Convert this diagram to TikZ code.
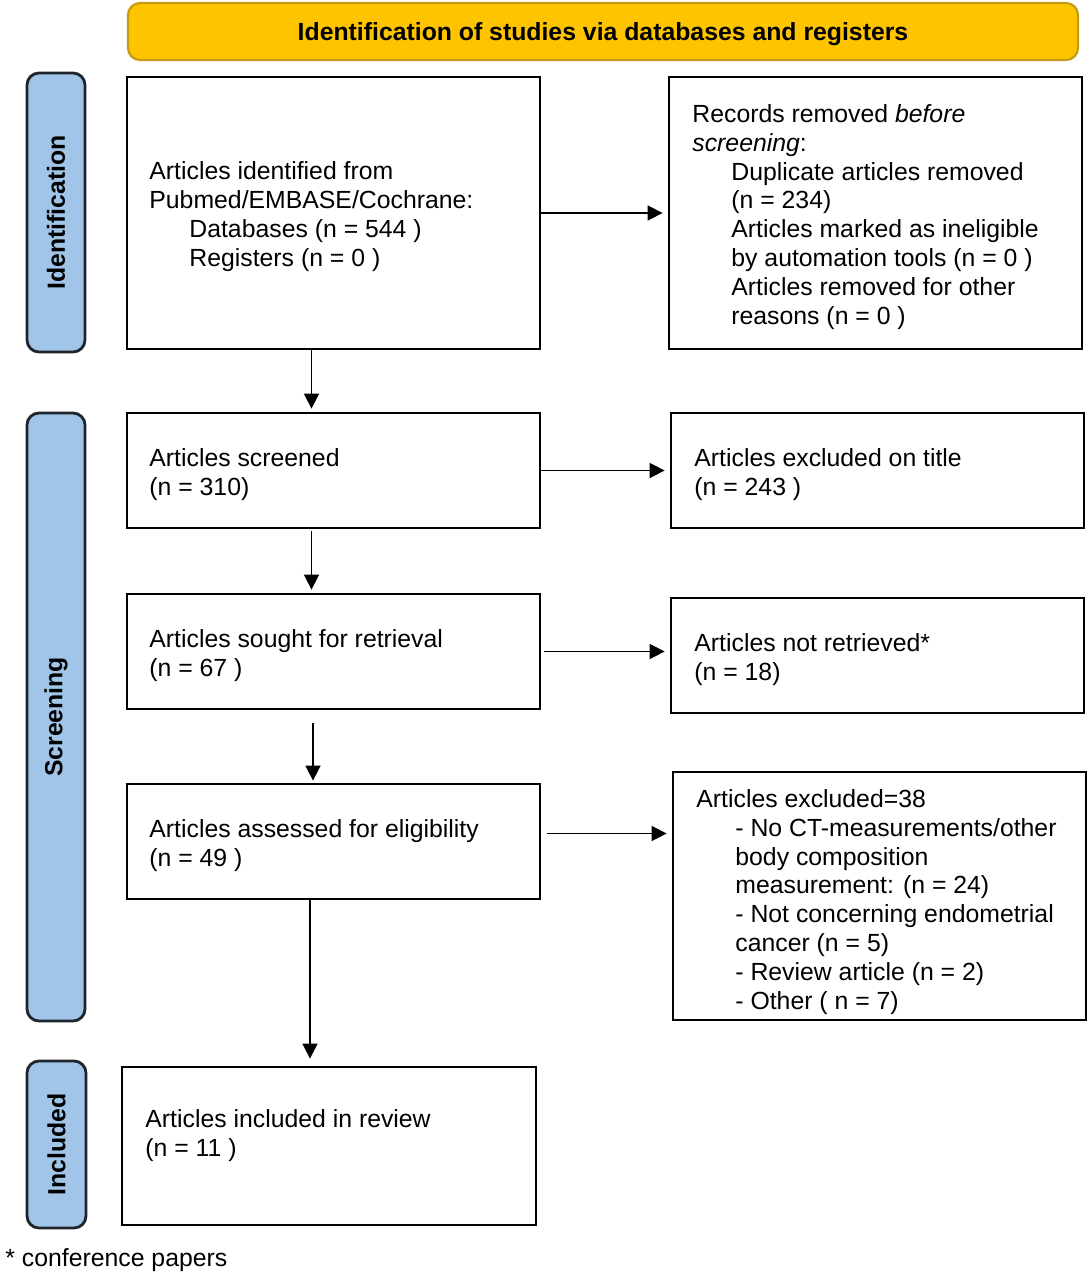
\documentclass[tikz,border=0pt]{standalone}
\usepackage{fontspec}
\setmainfont{Liberation Sans}
\usetikzlibrary{arrows.meta,calc}
\definecolor{bannerfill}{RGB}{255,196,0}
\definecolor{bannerdraw}{RGB}{196,156,20}
\definecolor{sidefill}{RGB}{160,197,232}
\definecolor{sidedraw}{RGB}{30,36,44}
\begin{document}
\begin{tikzpicture}[x=0.5pt,y=-0.5pt,
  box/.style={draw=black, line width=1.4pt, inner sep=0pt},
  banner/.style={draw=bannerdraw, fill=bannerfill, line width=1.1pt, rounded corners=6pt,
    minimum width=475pt, minimum height=28.5pt, inner sep=0pt},
  bantxt/.style={anchor=base, inner sep=0pt, font=\bfseries\fontsize{12.4}{14.4}\selectfont},
  side/.style={draw=sidedraw, fill=sidefill, line width=1.4pt, rounded corners=6pt, inner sep=0pt},
  sidetxt/.style={rotate=90, inner sep=0pt, font=\bfseries\fontsize{12.4}{14.4}\selectfont},
  txt/.style={anchor=base west, inner sep=0pt, align=left, font=\fontsize{12.4}{14.4}\selectfont},
  arr/.style={-{Triangle[length=7.5pt,width=7.5pt]}, line width=0.8pt}
]
\useasboundingbox (0,0) rectangle (1088,1273);

% banner
\node[banner] (ban) at (603,31.5) {};
\node[bantxt] (bant) at (603,41) {Identification of studies via databases and registers};

% side bars
\node[side, minimum width=29pt, minimum height=139.5pt] (s1) at (56,212.5) {};
\node[sidetxt] (s1t) at (s1) {Identification};
\node[side, minimum width=29pt, minimum height=304pt] (s2) at (56,717) {};
\node[sidetxt] (s2t) at (s2) {Screening};
\node[side, minimum width=29.5pt, minimum height=83.5pt] (s3) at (56.5,1144.5) {};
\node[sidetxt] (s3t) at (s3) {Included};

% boxes
\node[box, minimum width=206.5pt, minimum height=136pt] (b1) at (333.5,213) {};
\node[box, minimum width=206.5pt, minimum height=136pt] (r1) at (875.5,213) {};
\node[box, minimum width=206.5pt, minimum height=57.5pt] (b2) at (333.5,470.5) {};
\node[box, minimum width=206.5pt, minimum height=57.5pt] (r2) at (877.5,470.5) {};
\node[box, minimum width=206.5pt, minimum height=57.5pt] (b3) at (333.5,651.5) {};
\node[box, minimum width=206.5pt, minimum height=57.5pt] (r3) at (877.5,655.5) {};
\node[box, minimum width=206.5pt, minimum height=57.5pt] (b4) at (333.5,841.5) {};
\node[box, minimum width=206.5pt, minimum height=124pt] (r4) at (879.5,896) {};
\node[box, minimum width=207pt, minimum height=79pt] (b5) at (329,1146) {};

% texts (base anchor = baseline of the last line)
\node[txt] (b1t) at (149,266) {Articles identified from\\Pubmed/EMBASE/Cochrane:\\\hspace*{20pt}Databases (n = 544 )\\\hspace*{20pt}Registers (n = 0 )};
\node[txt] (r1t) at (692,324) {Records removed \textit{before}\\\textit{screening}:\\\hspace*{19.5pt}Duplicate articles removed\\\hspace*{19.5pt}(n = 234)\\\hspace*{19.5pt}Articles marked as ineligible\\\hspace*{19.5pt}by automation tools (n = 0 )\\\hspace*{19.5pt}Articles removed for other\\\hspace*{19.5pt}reasons (n = 0 )};
\node[txt] (b2t) at (149,495) {Articles screened\\(n = 310)};
\node[txt] (r2t) at (694,495) {Articles excluded on title\\(n = 243 )};
\node[txt] (b3t) at (149,676) {Articles sought for retrieval\\(n = 67 )};
\node[txt] (r3t) at (694,680) {Articles not retrieved*\\(n = 18)};
\node[txt] (b4t) at (149,866) {Articles assessed for eligibility\\(n = 49 )};
\node[txt] (r4t) at (696,1009) {Articles excluded=38\\\hspace*{19.5pt}- No CT-measurements/other\\\hspace*{19.5pt}body composition\\\hspace*{19.5pt}measurement: (n = 24)\\\hspace*{19.5pt}- Not concerning endometrial\\\hspace*{19.5pt}cancer (n = 5)\\\hspace*{19.5pt}- Review article (n = 2)\\\hspace*{19.5pt}- Other ( n = 7)};
\node[txt] (b5t) at (145,1156) {Articles included in review\\(n = 11 )};
\node[txt] (fn) at (5,1266) {* conference papers};

% horizontal connectors
\draw[arr, shorten >=2.5pt] (b1) -- (r1);
\draw[arr, shorten >=2.5pt] (b2) -- (r2);
\coordinate (a3) at ($(b3.east)+(3,0)$);
\draw[arr, shorten >=2.5pt] (a3) -- (a3 -| r3.west);
\coordinate (a4) at ($(b4.east)+(6,-8)$);
\draw[arr, shorten >=2.5pt] (a4) -- (a4 -| r4.west);

% vertical connectors
\coordinate (v1) at ($(b1.south)+(-22,0)$);
\draw[arr, shorten >=1.5pt] (v1) -- (v1 |- b2.north);
\coordinate (v2) at ($(b2.south)+(-22,0)$);
\draw[arr, shorten >=1.5pt, shorten <=1pt] (v2) -- (v2 |- b3.north);
\coordinate (v3) at ($(b3.south)+(-20.5,0)$);
\draw[arr, shorten >=1pt, shorten <=6.5pt] (v3) -- (v3 |- b4.north);
\coordinate (v4) at ($(b4.south)+(-23.5,0)$);
\draw[arr, shorten >=3.5pt] (v4) -- (v4 |- b5.north);
\end{tikzpicture}
\end{document}
